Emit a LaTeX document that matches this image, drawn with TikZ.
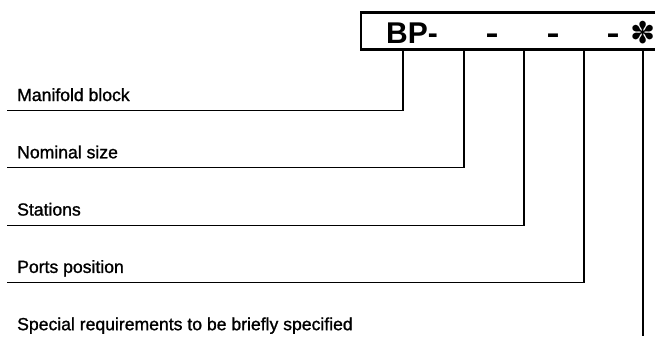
\documentclass[tikz,border=0pt]{standalone}
\usepackage{fontspec}
\setmainfont{Liberation Sans}
\newfontfamily\lblfont{Liberation Sans}[FakeBold=1.2]
\newfontfamily\symfont{DejaVu Sans}

\tikzset{
  lbl/.style = {anchor=base west, inner sep=0pt, font=\lblfont\fontsize{17.6}{20}\selectfont},
  code/.style = {anchor=base, inner sep=0pt, font=\bfseries\fontsize{30}{30}\selectfont},
  leader/.style = {line width=1.2pt}
}

\begin{document}
\begin{tikzpicture} [x=1pt, y=-1pt]
		\useasboundingbox (0, 0) rectangle (655, 337);
		% code box, open to the right
		\draw [line width=2.2pt] (670, 12.5) -- (361, 12.5) -- (361, 49.5) -- (670, 49.5);
		\node[code, anchor=base west] (bp) at (386, 43.5) {BP-};
		\node[code, xscale=1.3] (dashb) at (492, 43.5) {-};
		\node[code, xscale=1.3] (dashc) at (553, 43.5) {-};
		\node[code, xscale=1.3] (dashd) at (613, 43.5) {-};
		\node[inner sep=0pt, font=\symfont\fontsize{30}{30}\selectfont] (star) at (643, 32.5) {✽};
		% tick points under the box
		\coordinate (ta) at (403, 49.5);
		\coordinate (tb) at (464, 49.5);
		\coordinate (tc) at (524, 49.5);
		\coordinate (td) at (584, 49.5);
		\coordinate (te) at (643, 49.5);
		% labels
		\node[lbl] (manifold) at (17, 101) {Manifold block};
		\node[lbl] (nominal) at (17, 158.3) {Nominal size};
		\node[lbl] (stations) at (17, 215.6) {Stations};
		\node[lbl] (ports) at (17, 272.9) {Ports position};
		\node[lbl] (special) at (17, 330.2) {Special requirements to be briefly specified};
		% leaders
		\draw [leader] (ta) |- ([shift={(-10, 9.5)}] manifold.base west);
		\draw [leader] (tb) |- ([shift={(-10, 9.5)}] nominal.base west);
		\draw [leader] (tc) |- ([shift={(-10, 9.5)}] stations.base west);
		\draw [leader] (td) |- ([shift={(-10, 9.5)}] ports.base west);
		\draw [leader] (te) -- (te |- special.base) -- ++(0, 5.5);
\end{tikzpicture}
\end{document}
